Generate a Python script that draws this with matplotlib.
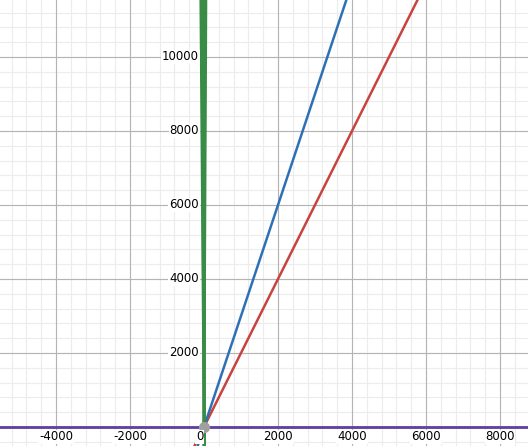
import matplotlib
matplotlib.use("Agg")
import matplotlib.pyplot as plt
import numpy as np

slopes_red_blue = [2, 3]
colors_rb = ["#c74440", "#2d70b3"]
green_top_x = [-90, -60, -30, 0, 30, 55]
xlim = (-5514, 8757)
ylim = (-514, 11540)
xticks = [-4000, -2000, 0, 2000, 4000, 6000, 8000]
yticks = [2000, 4000, 6000, 8000, 10000]

fig = plt.figure(figsize=(5.28, 4.46), dpi=100)
ax = fig.add_axes([0, 0, 1, 1])
ax.set_xlim(*xlim); ax.set_ylim(*ylim)
for v in np.arange(-5600, 9000, 400):
    ax.axvline(v, color="#ececec", lw=0.8, zorder=0)
for v in np.arange(-400, 12000, 400):
    ax.axhline(v, color="#ececec", lw=0.8, zorder=0)
for v in np.arange(-4000, 9000, 2000):
    ax.axvline(v, color="#b4b4b4", lw=0.8, zorder=0)
for v in np.arange(2000, 12000, 2000):
    ax.axhline(v, color="#b4b4b4", lw=0.8, zorder=0)
ax.axvline(0, color="black", lw=1, zorder=1)
ax.axhline(0, color="black", lw=1, zorder=1)
xs = np.array(xlim)
for s, c in zip(slopes_red_blue, colors_rb):
    ax.plot(xs, s * xs, color=c, lw=1.8, zorder=3)
for tx in green_top_x:
    ax.plot([-tx * 0.05, tx], [-ylim[1] * 0.05, ylim[1]], color="#388c46", lw=1.8, zorder=3)
ax.axhline(0, color="#6042a6", lw=2, zorder=4)
ax.plot([0], [0], "o", color="#a0a0a0", ms=7, zorder=5)
bb = dict(facecolor="white", edgecolor="none", pad=0.5)
for t in xticks:
    lab = str(t)
    ax.text(t if t != 0 else -120, -270, lab, ha="center", va="center", fontsize=8.5, bbox=bb, zorder=6)
for t in yticks:
    ax.text(-140, t, str(t), ha="right", va="center", fontsize=8.5, bbox=bb, zorder=6)
ax.axis("off")
fig.savefig("out.png", dpi=100)
